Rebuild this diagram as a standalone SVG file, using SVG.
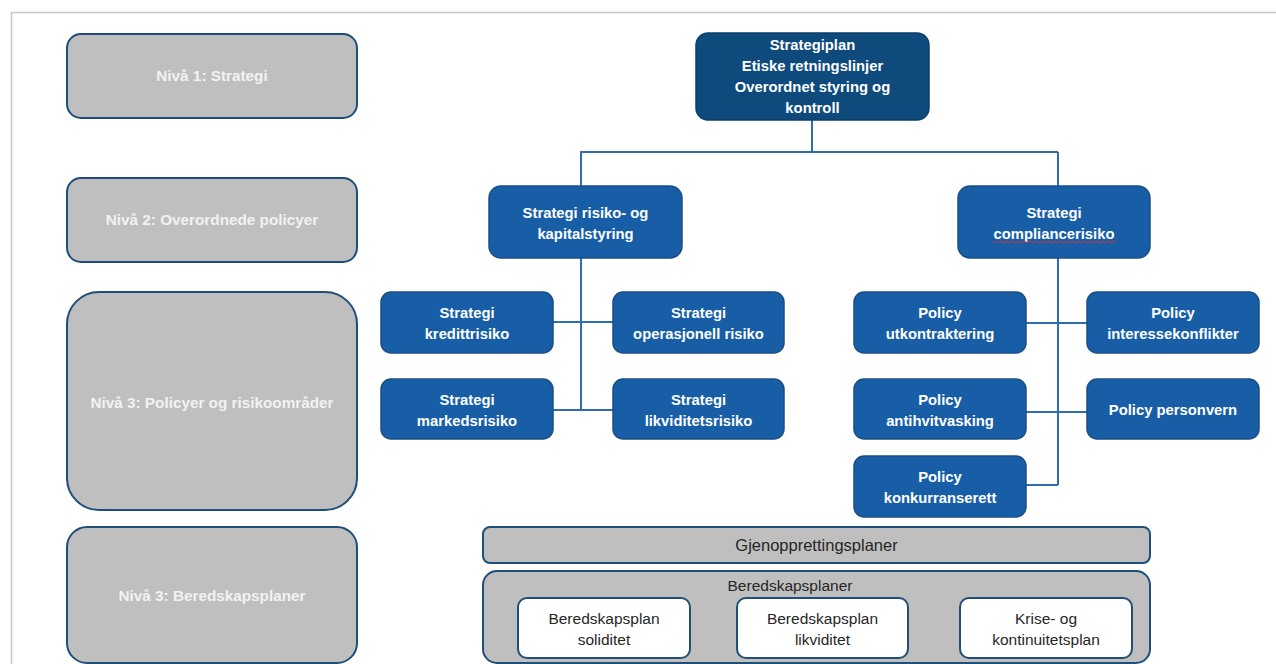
<svg xmlns="http://www.w3.org/2000/svg" width="1276" height="664" viewBox="0 0 1276 664">
<style>
.lvl{fill:#bfbfbf;stroke:#1f4e79;stroke-width:2}
.lvlt{font-family:"Liberation Sans",Arial,sans-serif;font-weight:bold;font-size:15.3px;fill:#f2f2f2;text-anchor:middle}
.bn{fill:#175ea6;stroke:#1a4f86;stroke-width:1.5}
.top{fill:#0f4a7c;stroke:#0d3f6b;stroke-width:1.5}
.bt{font-family:"Liberation Sans",Arial,sans-serif;font-weight:bold;font-size:14.8px;fill:#ffffff;text-anchor:middle}
.gr{fill:#bfbfbf;stroke:#1f4e79;stroke-width:2}
.wh{fill:#ffffff;stroke:#1f4e79;stroke-width:2}
.rt{font-family:"Liberation Sans",Arial,sans-serif;font-size:15.5px;fill:#262626;text-anchor:middle}
.con{stroke:#2e6db4;stroke-width:2;fill:none}
</style>
<rect width="1276" height="664" fill="#ffffff"/>
<path d="M11.5 664 V12.5 H1276" fill="none" stroke="#c8c8c8" stroke-width="1.5"/>

<g id="lvl1"><rect class="lvl" x="67" y="34" width="290" height="84" rx="14"/><text class="lvlt" x="212" y="81">Nivå 1: Strategi</text></g>
<g id="lvl2"><rect class="lvl" x="67" y="178" width="290" height="84" rx="14"/><text class="lvlt" x="212" y="225">Nivå 2: Overordnede policyer</text></g>
<g id="lvl3a"><rect class="lvl" x="67" y="292" width="290" height="218" rx="32"/><text class="lvlt" x="212" y="408">Nivå 3: Policyer og risikoområder</text></g>
<g id="lvl3b"><rect class="lvl" x="67" y="527" width="290" height="136" rx="20"/><text class="lvlt" x="212" y="601">Nivå 3: Beredskapsplaner</text></g>

<g id="connectors">
<path class="con" d="M812 120 V152 M580 152 H1058 M581 152 V186 M1058 152 V186"/>
<path class="con" d="M581 258 V410 M553 322 H613 M553 410 H613"/>
<path class="con" d="M1058 258 V485 M1026 323 H1087 M1026 412 H1087 M1026 485 H1058"/>
</g>

<g id="top"><rect class="top" x="696" y="33" width="233" height="87" rx="12"/>
<text class="bt" x="812.5" y="50">Strategiplan</text>
<text class="bt" x="812.5" y="71">Etiske retningslinjer</text>
<text class="bt" x="812.5" y="92">Overordnet styring og</text>
<text class="bt" x="812.5" y="113">kontroll</text></g>

<g id="risk"><rect class="bn" x="489" y="186" width="193" height="72" rx="12"/>
<text class="bt" x="585.5" y="218">Strategi risiko- og</text>
<text class="bt" x="585.5" y="239">kapitalstyring</text></g>

<g id="compl"><rect class="bn" x="958" y="186" width="192" height="72" rx="12"/>
<text class="bt" x="1054" y="218">Strategi</text>
<text class="bt" x="1054" y="239">compliancerisiko</text>
<path d="M993 242 q1.5 -2 3 0 t3 0 t3 0 t3 0 t3 0 t3 0 t3 0 t3 0 t3 0 t3 0 t3 0 t3 0 t3 0 t3 0 t3 0 t3 0 t3 0 t3 0 t3 0 t3 0 t3 0 t3 0 t3 0 t3 0 t3 0 t3 0 t3 0 t3 0 t3 0 t3 0 t3 0 t3 0 t3 0 t3 0 t3 0 t3 0 t3 0 t3 0 t3 0 t3 0 t3 0" fill="none" stroke="#e03030" stroke-width="1"/></g>

<g id="kreditt"><rect class="bn" x="381" y="292" width="172" height="61" rx="10"/>
<text class="bt" x="467" y="318">Strategi</text><text class="bt" x="467" y="339">kredittrisiko</text></g>
<g id="operasjonell"><rect class="bn" x="613" y="292" width="171" height="61" rx="10"/>
<text class="bt" x="698.5" y="318">Strategi</text><text class="bt" x="698.5" y="339">operasjonell risiko</text></g>
<g id="markeds"><rect class="bn" x="381" y="379" width="172" height="60" rx="10"/>
<text class="bt" x="467" y="405">Strategi</text><text class="bt" x="467" y="426">markedsrisiko</text></g>
<g id="likviditet"><rect class="bn" x="613" y="379" width="171" height="60" rx="10"/>
<text class="bt" x="698.5" y="405">Strategi</text><text class="bt" x="698.5" y="426">likviditetsrisiko</text></g>

<g id="utkontr"><rect class="bn" x="854" y="292" width="172" height="61" rx="10"/>
<text class="bt" x="940" y="318">Policy</text><text class="bt" x="940" y="339">utkontraktering</text></g>
<g id="interesse"><rect class="bn" x="1087" y="292" width="172" height="61" rx="10"/>
<text class="bt" x="1173" y="318">Policy</text><text class="bt" x="1173" y="339">interessekonflikter</text></g>
<g id="antihvit"><rect class="bn" x="854" y="379" width="172" height="60" rx="10"/>
<text class="bt" x="940" y="405">Policy</text><text class="bt" x="940" y="426">antihvitvasking</text></g>
<g id="personvern"><rect class="bn" x="1087" y="379" width="172" height="60" rx="10"/>
<text class="bt" x="1173" y="415">Policy personvern</text></g>
<g id="konkurranse"><rect class="bn" x="854" y="456" width="172" height="61" rx="10"/>
<text class="bt" x="940" y="482">Policy</text><text class="bt" x="940" y="503">konkurranserett</text></g>

<g id="gjenoppretting"><rect class="gr" x="483" y="527" width="667" height="36" rx="7"/>
<text class="rt" x="816.5" y="551" style="font-size:16.5px">Gjenopprettingsplaner</text></g>
<g id="beredskap"><rect class="gr" x="483" y="571" width="667" height="92" rx="14"/>
<text class="rt" x="790" y="591">Beredskapsplaner</text></g>
<g id="bsoliditet"><rect class="wh" x="518" y="598" width="172" height="60" rx="9"/>
<text class="rt" x="604" y="624">Beredskapsplan</text><text class="rt" x="604" y="645">soliditet</text></g>
<g id="blikviditet"><rect class="wh" x="737" y="598" width="171" height="60" rx="9"/>
<text class="rt" x="822.5" y="624">Beredskapsplan</text><text class="rt" x="822.5" y="645">likviditet</text></g>
<g id="krise"><rect class="wh" x="960" y="598" width="172" height="60" rx="9"/>
<text class="rt" x="1046" y="624">Krise- og</text><text class="rt" x="1046" y="645">kontinuitetsplan</text></g>
</svg>
